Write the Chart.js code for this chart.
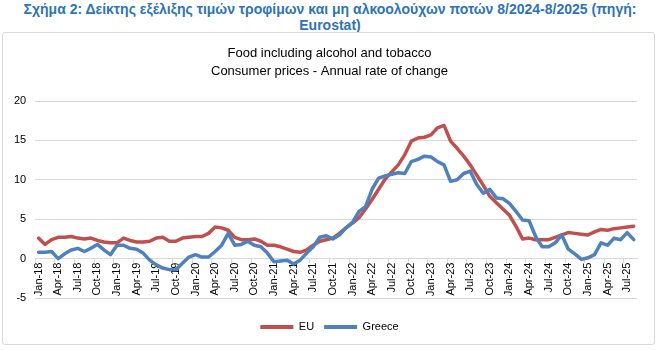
<!DOCTYPE html>
<html>
<head>
<meta charset="utf-8">
<script src="https://cdn.jsdelivr.net/npm/chart.js@4"></script>
<style>
  body { margin: 0; background: #fff; width: 660px; height: 350px; position: relative; overflow: hidden; }
  #heading {
    position: absolute; left: 0; top: 1px; width: 660px;
    text-align: center; white-space: nowrap;
    font: bold 14px "Liberation Sans", Arial, sans-serif; line-height: 16px;
    color: #2E74B5;
  }
  #box {
    position: absolute; left: 2px; top: 32px; width: 653px; height: 313px;
    box-sizing: border-box; border: 1px solid #d9d9d9; border-radius: 3px;
  }
</style>
</head>
<body>
<div id="heading">Σχήμα 2: Δείκτης εξέλιξης τιμών τροφίμων και μη αλκοολούχων ποτών 8/2024-8/2025 (πηγή:<br>Eurostat)</div>
<div id="box"><canvas id="chart"></canvas></div>
<script>
// monthly categories Jan-18 .. Aug-25
const monthNames = ["Jan", "Feb", "Mar", "Apr", "May", "Jun", "Jul", "Aug", "Sep", "Oct", "Nov", "Dec"];
const years = ["18", "19", "20", "21", "22", "23", "24", "25"];
const lastMonthIndex = 7; // Aug-25

const months = [];
years.forEach((y, yi) => {
  monthNames.forEach((m, mi) => {
    if (yi < years.length - 1 || mi <= lastMonthIndex) months.push(m + "-" + y);
  });
});

// annual rate of change, %
const euValues = [
  2.6, 1.8, 2.4, 2.7, 2.7, 2.8, 2.6, 2.5, 2.6, 2.3, 2.1, 2.0,
  2.0, 2.6, 2.3, 2.1, 2.1, 2.2, 2.6, 2.7, 2.2, 2.2, 2.6, 2.7,
  2.8, 2.8, 3.2, 4.0, 3.9, 3.6, 2.7, 2.4, 2.4, 2.5, 2.2, 1.7,
  1.7, 1.5, 1.2, 0.9, 0.8, 1.1, 1.7, 2.2, 2.4, 2.6, 3.2, 3.9,
  4.5, 5.2, 6.3, 7.5, 8.8, 10.1, 11.0, 11.9, 13.2, 14.9, 15.3, 15.4,
  15.7, 16.6, 16.9, 14.9, 14.0, 13.0, 11.9, 10.6, 9.3, 7.9, 7.1, 6.3,
  5.5, 4.1, 2.5, 2.6, 2.4, 2.4, 2.4, 2.7, 3.0, 3.3, 3.2, 3.1,
  3.0, 3.4, 3.7, 3.6, 3.8, 3.9, 4.0, 4.1
];

const greeceValues = [
  0.8, 0.8, 0.9, 0.0, 0.6, 1.1, 1.3, 0.9, 1.3, 1.8, 1.1, 0.5,
  1.7, 1.7, 1.3, 1.2, 0.7, -0.2, -0.8, -1.2, -1.4, -1.4, -0.6, 0.2,
  0.5, 0.2, 0.2, 0.9, 1.7, 3.2, 1.7, 1.8, 2.2, 1.7, 1.5, 0.7,
  -0.4, -0.3, -0.2, -0.7, -0.2, 0.7, 1.5, 2.7, 2.9, 2.5, 3.0, 3.9,
  4.6, 6.0, 6.6, 8.8, 10.2, 10.5, 10.7, 10.9, 10.8, 12.3, 12.6, 13.0,
  12.9, 12.3, 11.9, 9.8, 10.0, 10.8, 11.1, 9.4, 8.3, 8.8, 7.7, 7.6,
  7.0, 6.0, 4.9, 4.8, 2.8, 1.5, 1.5, 2.0, 3.0, 1.2, 0.6, -0.1,
  0.1, 0.5, 2.0, 1.7, 2.6, 2.4, 3.3, 2.4
];

const titleLines = ["Food including alcohol and tobacco", "Consumer prices - Annual rate of change"];
const seriesNames = ["EU", "Greece"];

const red = "#C0504D";
const blue = "#4F81BD";
const gridColor = "#d9d9d9";
const font = "'Liberation Sans', Arial, sans-serif";

const ctx = document.getElementById("chart").getContext("2d");
new Chart(ctx, {
  type: "line",
  data: {
    labels: months,
    datasets: [
      {
        label: seriesNames[0],
        data: euValues,
        borderColor: red,
        backgroundColor: red,
        borderWidth: 3.5,
        pointRadius: 0,
        tension: 0,
        borderJoinStyle: "round",
        borderCapStyle: "round",
        order: 1
      },
      {
        label: seriesNames[1],
        data: greeceValues,
        borderColor: blue,
        backgroundColor: blue,
        borderWidth: 3.5,
        pointRadius: 0,
        tension: 0,
        borderJoinStyle: "round",
        borderCapStyle: "round",
        order: 0
      }
    ]
  },
  options: {
    responsive: true,
    maintainAspectRatio: false,
    animation: false,
    // y axis reserves 2x tick padding, so left padding is small
    layout: { padding: { left: 2, right: 0, top: 0, bottom: 1.5 } },
    plugins: {
      title: {
        display: true,
        text: titleLines,
        color: "#000",
        font: { family: font, size: 13, weight: "normal", lineHeight: 1.45 },
        padding: { top: 10.6, bottom: 19.7 }
      },
      legend: {
        position: "bottom",
        // empty legend title only used as spacer above the items
        title: { display: true, text: "", font: { size: 1, lineHeight: 1 }, padding: { top: 12.5, bottom: 0 } },
        labels: {
          color: "#000",
          font: { family: font, size: 11 },
          boxWidth: 33,
          boxHeight: 4,
          padding: 10,
          sort: (a, b) => a.datasetIndex - b.datasetIndex,
          generateLabels: (chart) =>
            Chart.defaults.plugins.legend.labels.generateLabels(chart).map(item => {
              item.lineWidth = 0;
              item.fillStyle = item.strokeStyle;
              return item;
            })
        }
      },
      tooltip: { enabled: false }
    },
    scales: {
      x: {
        type: "category",
        position: { y: 0 },
        offset: true,
        // right margin of the plot comes from here so title/legend stay centred
        afterFit: (scale) => {
          scale.paddingLeft = 0;
          scale.paddingRight = 17;
        },
        grid: {
          offset: true,
          drawOnChartArea: false,
          drawTicks: true,
          tickLength: 4,
          color: (c) => (c.index % 3 === 0 ? gridColor : "rgba(0,0,0,0)")
        },
        border: { display: true, color: gridColor, width: 1 },
        ticks: {
          autoSkip: false,
          minRotation: 90,
          maxRotation: 90,
          padding: 0,
          color: "#000",
          font: { family: font, size: 11 },
          callback: function (value, index) {
            return index % 3 === 0 ? this.getLabelForValue(value) : "";
          }
        }
      },
      y: {
        min: -5,
        max: 20,
        ticks: {
          stepSize: 5,
          padding: 9,
          color: "#000",
          font: { family: font, size: 11 }
        },
        grid: { color: gridColor, drawTicks: false },
        border: { display: false }
      }
    }
  }
});
</script>
</body>
</html>
